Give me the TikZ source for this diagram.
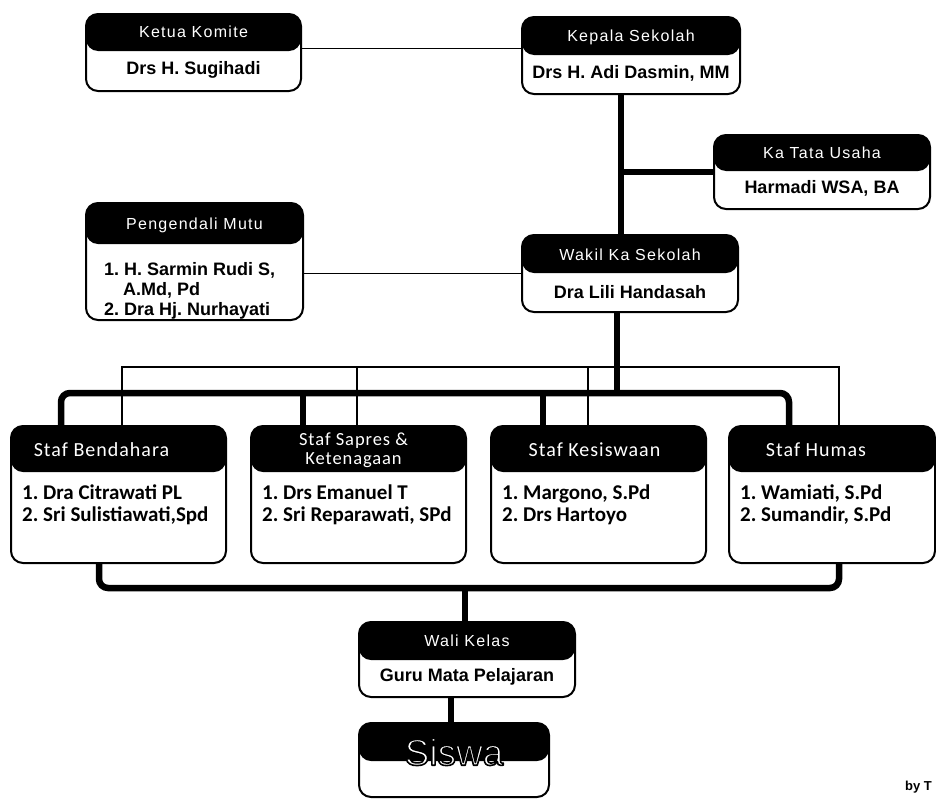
\documentclass[tikz,border=0pt]{standalone}
\usepackage{fontspec}
\setmainfont{Liberation Sans}
\newfontfamily\hdrfont{Liberation Sans}[LetterSpace=8]
\newfontfamily\carhdr{Carlito}[LetterSpace=5]
\newfontfamily\carbody{Carlito}
\usetikzlibrary{calc,backgrounds}
\frenchspacing
\newcommand\outlined[1]{\textcolor{white}{\special{pdf:literal direct 2 Tr 1.6 w 1 j 0 0 0 RG}#1\special{pdf:literal direct 0 Tr}}}
\tikzset{
  hh/.store in=\hdrh, hh=38pt,
  obox/.style={draw=black, line width=2pt, rounded corners=12pt, fill=white, inner sep=0pt, anchor=north west,
     path picture={\fill[black] ([yshift=2pt]path picture bounding box.north west) rectangle ([yshift=-\hdrh]path picture bounding box.north east);}},
  htxt/.style={text=white, font=\hdrfont\fontsize{16}{19}\selectfont, inner sep=0pt},
  btxt/.style={text=black, font=\bfseries\fontsize{18}{21}\selectfont, inner sep=0pt},
  ptxt/.style={text=black, font=\bfseries\fontsize{18}{20}\selectfont, inner sep=0pt, align=left, anchor=north west},
  shtxt/.style={text=white, font=\carhdr\fontsize{20}{18}\selectfont, inner sep=0pt, align=center},
  sbtxt/.style={text=black, font=\carbody\bfseries\fontsize{21}{22}\selectfont, inner sep=0pt, align=left, anchor=north west},
  thinline/.style={line width=1.5pt},
  thickline/.style={line width=6.5pt},
}
\begin{document}
\begin{tikzpicture}[x=1pt,y=-1pt]
\useasboundingbox (0,0) rectangle (936,798);
% boxes
\node[obox, hh=37pt, minimum width=215pt, minimum height=77pt] (ketua) at (85,13) {};
\node[obox, hh=38pt, minimum width=218pt, minimum height=77pt] (kepala) at (521,16) {};
\node[obox, hh=36pt, minimum width=216pt, minimum height=74pt] (katata) at (713,134) {};
\node[obox, hh=38pt, minimum width=216pt, minimum height=77pt] (wakil) at (521,234) {};
\node[obox, hh=41pt, minimum width=217pt, minimum height=117pt] (pengendali) at (85,202) {};
\node[obox, hh=46pt, minimum width=215pt, minimum height=137pt] (bendahara) at (10,425) {};
\node[obox, hh=46pt, minimum width=215pt, minimum height=137pt] (sapres) at (250,425) {};
\node[obox, hh=46pt, minimum width=215pt, minimum height=137pt] (kesiswaan) at (490,425) {};
\node[obox, hh=46pt, minimum width=206pt, minimum height=137pt] (humas) at (728,425) {};
\node[obox, hh=38pt, minimum width=216pt, minimum height=75pt] (wali) at (358,621) {};
\node[obox, hh=38pt, minimum width=190pt, minimum height=74pt] (siswa) at (358,722) {};
% texts
\node[htxt] (ketua-h) at ($(ketua.north)+(0,19)$) {Ketua Komite};
\node[btxt] (ketua-b) at ($(ketua.north)+(0,57)$) {Drs H. Sugihadi};
\node[htxt] (kepala-h) at ($(kepala.north)+(0,21)$) {Kepala Sekolah};
\node[btxt] (kepala-b) at ($(kepala.north)+(0,57)$) {Drs H. Adi Dasmin, MM};
\node[htxt] (katata-h) at ($(katata.north)+(0,19)$) {Ka Tata Usaha};
\node[btxt] (katata-b) at ($(katata.north)+(0,54)$) {Harmadi WSA, BA};
\node[htxt] (wakil-h) at ($(wakil.north)+(0,21)$) {Wakil Ka Sekolah};
\node[btxt] (wakil-b) at ($(wakil.north)+(0,58)$) {Dra Lili Handasah};
\node[htxt] (pengendali-h) at ($(pengendali.north)+(0,23)$) {Pengendali Mutu};
\node[ptxt] (pengendali-b) at (104,262) {1. H. Sarmin Rudi S,\\\hspace*{19pt}A.Md, Pd\\2. Dra Hj. Nurhayati};
\node[shtxt] (bendahara-h) at ($(bendahara.north)+(-17,25)$) {Staf Bendahara};
\node[shtxt, font=\carhdr\fontsize{18.5}{18}\selectfont] (sapres-h1) at ($(sapres.north)+(-5,16)$) {Staf Sapres \&};
\node[shtxt, font=\carhdr\fontsize{18.5}{18}\selectfont] (sapres-h2) at ($(sapres.north)+(-5,35)$) {Ketenagaan};
\node[shtxt] (kesiswaan-h) at ($(kesiswaan.north)+(-4,25)$) {Staf Kesiswaan};
\node[shtxt] (humas-h) at ($(humas.north)+(-16,25)$) {Staf Humas};
\node[sbtxt] (bendahara-b) at ($(bendahara.north west)+(12,60)$) {1. Dra Citrawati PL\\2. Sri Sulistiawati,Spd};
\node[sbtxt] (sapres-b) at ($(sapres.north west)+(12,60)$) {1. Drs Emanuel T\\2. Sri Reparawati, SPd};
\node[sbtxt] (kesiswaan-b) at ($(kesiswaan.north west)+(12,60)$) {1. Margono, S.Pd\\2. Drs Hartoyo};
\node[sbtxt] (humas-b) at ($(humas.north west)+(12,60)$) {1. Wamiati, S.Pd\\2. Sumandir, S.Pd};
\node[htxt] (wali-h) at ($(wali.north)+(0,20)$) {Wali Kelas};
\node[btxt] (wali-b) at ($(wali.north)+(0,56)$) {Guru Mata Pelajaran};
\node[inner sep=0pt, font=\fontsize{37}{38}\selectfont] (siswa-t) at ($(siswa.north)+(0,30)$) {\outlined{Siswa}};
\node[inner sep=0pt, anchor=west, font=\bfseries\fontsize{13}{13}\selectfont] (byt) at (905,787) {by T};
% connectors
\begin{scope}[on background layer]
\fill[white] (0,0) rectangle (936,798);
\draw[thinline] ([yshift=4pt]ketua.east) -- ([yshift=4pt]ketua.east -| kepala.west);
\coordinate (kv) at ([xshift=-10pt]kepala.south);
\draw[thickline] (kv) -- (kv |- wakil.north);
\draw[thickline] (katata.west) -- (kv |- katata.west);
\draw[thinline] (pengendali.east |- wakil.west) -- (wakil.west);
% thin bus
\coordinate (t1) at ([xshift=3.5pt]bendahara.north);
\coordinate (t2) at ([xshift=-1.5pt]sapres.north);
\coordinate (t3) at ([xshift=-10.5pt]kesiswaan.north);
\coordinate (t4) at ([xshift=7pt]humas.north);
\coordinate (nb) at (0,367);
\draw[thinline] (t1) -- (t1 |- nb) -- (t4 |- nb) -- (t4);
\draw[thinline] (t2) -- (t2 |- nb);
\draw[thinline] (t3) -- (t3 |- nb);
% thick bus
\coordinate (wv) at ([xshift=-13pt]wakil.south);
\coordinate (d1) at ([xshift=-57.5pt]bendahara.north);
\coordinate (d2) at ([xshift=-55.5pt]sapres.north);
\coordinate (d3) at ([xshift=-55.5pt]kesiswaan.north);
\coordinate (d4) at ([xshift=-43pt]humas.north);
\coordinate (tb) at (0,393);
\draw[thickline] (wv) -- (wv |- tb);
\draw[thickline, rounded corners=9pt] (d1) -- (d1 |- tb) -- (d4 |- tb) -- (d4);
\draw[thickline] (d2) -- (d2 |- tb);
\draw[thickline] (d3) -- (d3 |- tb);
% bottom bus
\coordinate (b1) at ([xshift=-19.5pt]bendahara.south);
\coordinate (b4) at ([xshift=7pt]humas.south);
\coordinate (bb) at (0,588);
\draw[thickline, rounded corners=9pt] (b1) -- (b1 |- bb) -- (b4 |- bb) -- (b4);
\coordinate (wn) at ([xshift=-2pt]wali.north);
\draw[thickline] (wn) -- (wn |- bb);
\coordinate (sn) at ([xshift=-3pt]siswa.north);
\draw[thickline] (sn) -- (sn |- wali.south);
\end{scope}
\end{tikzpicture}
\end{document}
